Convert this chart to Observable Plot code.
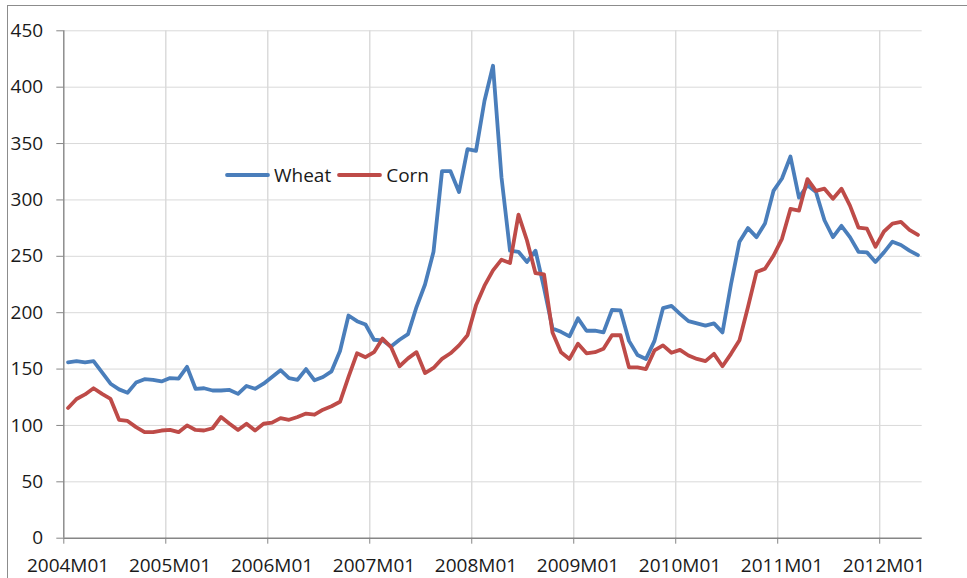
<!DOCTYPE html>
<html>
<head>
<meta charset="utf-8">
<script src="https://cdn.jsdelivr.net/npm/d3@7"></script>
<script src="https://cdn.jsdelivr.net/npm/@observablehq/plot@0.6"></script>
<style>
  body { margin: 0; background: #fff; font-family: "Open Sans", sans-serif; }
  #wrap { position: relative; width: 967px; height: 578px; overflow: hidden; background: #fff; }
  #chart { position: absolute; left: 0; top: 0; }
  #frame { position: absolute; left: 7px; top: 5px; width: 1200px; height: 1200px;
           border-left: 1.3px solid #8c8c8c; border-top: 1.3px solid #8c8c8c; pointer-events: none; }
  #legend { position: absolute; left: 225px; top: 161px; display: flex; align-items: center;
            font-size: 19px; color: #1a1a1a; white-space: nowrap; line-height: 28px; }
  #legend .sw { display: block; }
  #legend .lab { margin-left: 4px; margin-right: 6px; }
</style>
</head>
<body>
<div id="wrap">
  <div id="frame"></div>
  <div id="chart"></div>
  <div id="legend"></div>
</div>
<script>
// ---- Data (monthly, starting 2004M01) ----
const startYear = 2004;
const tickLabels = ["2004M01","2005M01","2006M01","2007M01","2008M01","2009M01","2010M01","2011M01","2012M01"];
const yTicks = [0, 50, 100, 150, 200, 250, 300, 350, 400, 450];
const seriesNames = ["Wheat", "Corn"];
const seriesColors = ["#4a7ebb", "#be4b48"];

const wheat = [
  156, 157, 156, 157, 147, 137, 132, 129, 138, 141, 140.5, 139,
  142, 141.5, 152, 132.5, 133, 131, 131, 131.5, 128, 135, 132.5, 137,
  143, 149, 142, 140.5, 150, 140, 143, 148, 166, 197.5, 192.5, 189.5,
  176, 175.5, 170, 176, 181, 205, 225, 254, 325.5, 325.5, 307, 345,
  343.5, 388, 419, 320, 255, 254, 245, 255, 222, 186, 183, 179,
  195, 184, 184, 182.5, 202.5, 202, 175, 162.5, 159, 175, 204, 206,
  199, 192.5, 190.5, 188.5, 190.5, 182.5, 225, 263, 275, 267, 279, 308,
  319, 338.5, 302, 313, 307, 282, 267, 277, 267, 254, 253.5, 245,
  253.5, 263, 260, 255, 251
];
const corn = [
  115.5, 123.5, 127.5, 133, 128, 123.5, 105, 104, 98.5, 94, 94, 95.5,
  96, 94, 100, 96, 95.5, 97.5, 107.5, 101.5, 96, 101.5, 95.5, 101.5,
  102.5, 106.5, 105, 107.5, 110.5, 109.5, 114, 117, 121, 143, 164, 160.5,
  165, 177, 169.5, 152.5, 159.5, 165, 146.5, 151, 159, 164, 171, 180,
  206.5, 224, 237.5, 247, 244, 287, 264, 235, 234, 182.5, 165, 159,
  172.5, 164, 165, 168, 180, 180, 151.5, 151.5, 150, 166.5, 171, 164.5,
  167, 162, 159, 157, 163.5, 152.5, 163.5, 175.5, 205, 236, 239, 250.5,
  265.5, 292, 290.5, 318.5, 308, 310, 301, 310, 295, 275.5, 274.5, 258.5,
  272, 279, 280.5, 273.5, 269
];

// ---- Build table ----
const n = wheat.length;
const months = d3.range(n).map(i => {
  const y = startYear + Math.floor(i / 12), m = (i % 12) + 1;
  return `${y}M${String(m).padStart(2, "0")}`;
});
const rows = d3.range(n).map(i => ({month: months[i], t: i + 0.5, Wheat: wheat[i], Corn: corn[i]}));
const yearStarts = tickLabels.map(l => months.indexOf(l));

const axisColor = "#868686";
const gridColor = "#d9d9d9";

const chart = Plot.plot({
  width: 967,
  height: 578,
  marginLeft: 63.3,
  marginRight: 45.3,
  marginTop: 30.3,
  marginBottom: 40.3,
  style: { fontFamily: "'Open Sans', sans-serif", fontSize: "19px", color: "#1a1a1a", background: "transparent", overflow: "visible" },
  x: { type: "linear", domain: [0, n] },
  y: { domain: [0, 450] },
  marks: [
    // gridlines
    Plot.ruleY(yTicks.filter(d => d > 0), { stroke: gridColor, strokeWidth: 1 }),
    Plot.ruleX(yearStarts.filter(d => d > 0), { stroke: gridColor, strokeWidth: 1.4 }),
    // y axis
    Plot.axisY({ ticks: yTicks, tickSize: 7, tickPadding: 13.6, stroke: axisColor, fill: "#1a1a1a", label: null, tickFormat: d => String(d) }),
    // x axis tick marks at year boundaries
    Plot.axisX({ ticks: yearStarts, tickSize: 6, stroke: axisColor, label: null, tickFormat: () => "" }),
    // x axis labels centered on the first month of each year
    Plot.axisX({ ticks: yearStarts.map(d => d + 0.5), tickSize: 0, tickPadding: 20.6, fill: "#1a1a1a", label: null,
                 tickFormat: d => months[Math.round(d - 0.5)] }),
    // axis lines
    Plot.ruleX([0], { stroke: axisColor, strokeWidth: 1.4 }),
    Plot.ruleY([0], { stroke: axisColor, strokeWidth: 1.4 }),
    // series
    Plot.line(rows, { x: "t", y: "Wheat", stroke: seriesColors[0], strokeWidth: 3.8, strokeLinejoin: "round", strokeLinecap: "round" }),
    Plot.line(rows, { x: "t", y: "Corn", stroke: seriesColors[1], strokeWidth: 3.8, strokeLinejoin: "round", strokeLinecap: "round" })
  ]
});
document.getElementById("chart").appendChild(chart);

// ---- Legend ----
const legend = document.getElementById("legend");
seriesNames.forEach((name, k) => {
  const sw = document.createElementNS("http://www.w3.org/2000/svg", "svg");
  sw.setAttribute("width", 45);
  sw.setAttribute("height", 8);
  sw.setAttribute("class", "sw");
  const ln = document.createElementNS("http://www.w3.org/2000/svg", "line");
  ln.setAttribute("x1", 2); ln.setAttribute("x2", 43);
  ln.setAttribute("y1", 4); ln.setAttribute("y2", 4);
  ln.setAttribute("stroke", seriesColors[k]);
  ln.setAttribute("stroke-width", 3.8);
  ln.setAttribute("stroke-linecap", "round");
  sw.appendChild(ln);
  legend.appendChild(sw);
  const lab = document.createElement("span");
  lab.className = "lab";
  lab.textContent = name;
  legend.appendChild(lab);
});
</script>
</body>
</html>
